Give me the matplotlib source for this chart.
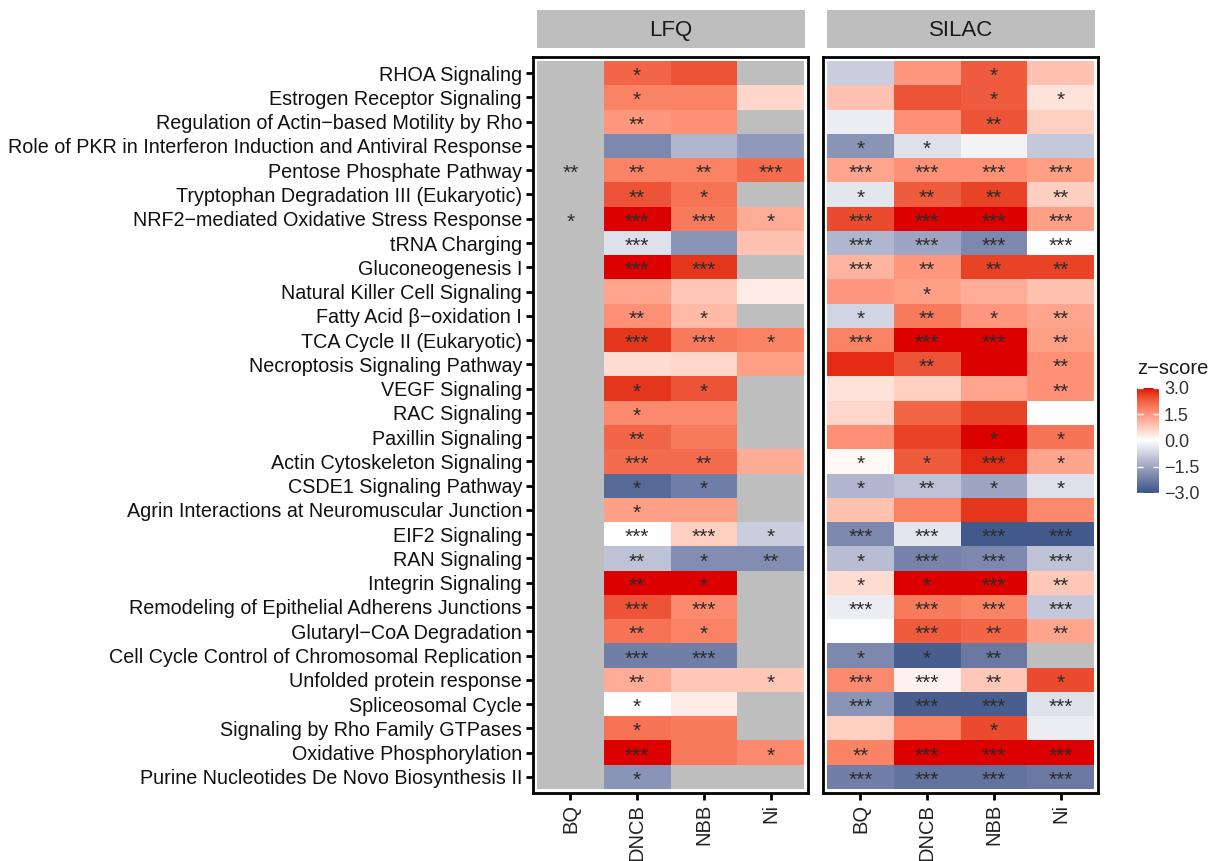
import numpy as np
import matplotlib
matplotlib.use("Agg")
import matplotlib.pyplot as plt
import matplotlib.colors as mcolors

plt.rcParams['font.family'] = ['Liberation Sans', 'DejaVu Sans']

nan = np.nan

pathways = [
    "RHOA Signaling",
    "Estrogen Receptor Signaling",
    "Regulation of Actin\u2212based Motility by Rho",
    "Role of PKR in Interferon Induction and Antiviral Response",
    "Pentose Phosphate Pathway",
    "Tryptophan Degradation III (Eukaryotic)",
    "NRF2\u2212mediated Oxidative Stress Response",
    "tRNA Charging",
    "Gluconeogenesis I",
    "Natural Killer Cell Signaling",
    "Fatty Acid \u03b2\u2212oxidation I",
    "TCA Cycle II (Eukaryotic)",
    "Necroptosis Signaling Pathway",
    "VEGF Signaling",
    "RAC Signaling",
    "Paxillin Signaling",
    "Actin Cytoskeleton Signaling",
    "CSDE1 Signaling Pathway",
    "Agrin Interactions at Neuromuscular Junction",
    "EIF2 Signaling",
    "RAN Signaling",
    "Integrin Signaling",
    "Remodeling of Epithelial Adherens Junctions",
    "Glutaryl\u2212CoA Degradation",
    "Cell Cycle Control of Chromosomal Replication",
    "Unfolded protein response",
    "Spliceosomal Cycle",
    "Signaling by Rho Family GTPases",
    "Oxidative Phosphorylation",
    "Purine Nucleotides De Novo Biosynthesis II",
]

treatments = ["BQ", "DNCB", "NBB", "Ni"]
methods = ["LFQ", "SILAC"]

# z-scores, one row per pathway, columns BQ / DNCB / NBB / Ni
lfq_z = [
    [nan, 2.2, 2.4, nan],
    [nan, 1.8, 1.8, 0.6],
    [nan, 1.5, 1.6, nan],
    [nan, -2.0, -1.2, -1.7],
    [nan, 1.8, 1.8, 2.1],
    [nan, 2.4, 2.0, nan],
    [nan, 3.0, 1.9, 1.2],
    [nan, -0.5, -1.8, 0.9],
    [nan, 3.0, 2.7, nan],
    [nan, 1.3, 0.8, 0.3],
    [nan, 1.6, 1.0, nan],
    [nan, 2.7, 1.9, 1.8],
    [nan, 0.5, 0.6, 1.4],
    [nan, 2.7, 2.4, nan],
    [nan, 1.7, 1.7, nan],
    [nan, 2.2, 1.9, nan],
    [nan, 2.1, 2.1, 1.2],
    [nan, -2.6, -2.2, nan],
    [nan, 1.4, 1.4, nan],
    [nan, 0.0, 0.7, -0.8],
    [nan, -1.0, -1.9, -1.9],
    [nan, 3.0, 3.0, nan],
    [nan, 2.4, 1.7, nan],
    [nan, 2.0, 1.8, nan],
    [nan, -2.2, -2.2, nan],
    [nan, 1.2, 0.8, 0.8],
    [nan, 0.0, 0.3, nan],
    [nan, 2.0, 1.9, nan],
    [nan, 3.0, 1.9, 1.7],
    [nan, -1.8, nan, nan],
]

silac_z = [
    [-0.8, 1.5, 2.3, 0.9],
    [0.9, 2.4, 2.3, 0.4],
    [-0.3, 1.6, 2.4, 0.7],
    [-1.8, -0.5, -0.2, -0.9],
    [1.3, 1.6, 1.6, 1.4],
    [-0.4, 2.3, 2.6, 0.7],
    [2.5, 3.0, 3.0, 1.4],
    [-1.2, -1.5, -2.0, 0.0],
    [1.1, 1.5, 2.6, 2.6],
    [1.5, 1.4, 1.2, 0.9],
    [-0.7, 1.9, 1.5, 1.3],
    [1.8, 3.0, 3.0, 1.4],
    [2.8, 2.4, 3.0, 1.6],
    [0.4, 0.7, 1.3, 1.6],
    [0.6, 2.2, 2.6, 0.0],
    [1.6, 2.6, 3.0, 2.0],
    [0.1, 2.3, 2.8, 1.3],
    [-1.2, -1.0, -1.5, -0.5],
    [0.9, 1.8, 2.7, 1.7],
    [-2.0, -0.4, -2.9, -2.9],
    [-1.1, -2.1, -2.0, -1.0],
    [0.5, 3.0, 3.0, 0.8],
    [-0.3, 1.9, 1.8, -0.9],
    [0.0, 2.3, 2.2, 1.3],
    [-2.0, -2.8, -2.3, nan],
    [1.7, 0.2, 0.8, 2.5],
    [-1.8, -2.8, -2.8, -0.5],
    [0.7, 1.8, 2.5, -0.3],
    [1.8, 3.0, 3.0, 3.0],
    [-2.2, -2.4, -2.4, -2.3],
]

# significance stars
lfq_sig = [
    ["", "*", "", ""],
    ["", "*", "", ""],
    ["", "**", "", ""],
    ["", "", "", ""],
    ["**", "**", "**", "***"],
    ["", "**", "*", ""],
    ["*", "***", "***", "*"],
    ["", "***", "", ""],
    ["", "***", "***", ""],
    ["", "", "", ""],
    ["", "**", "*", ""],
    ["", "***", "***", "*"],
    ["", "", "", ""],
    ["", "*", "*", ""],
    ["", "*", "", ""],
    ["", "**", "", ""],
    ["", "***", "**", ""],
    ["", "*", "*", ""],
    ["", "*", "", ""],
    ["", "***", "***", "*"],
    ["", "**", "*", "**"],
    ["", "**", "*", ""],
    ["", "***", "***", ""],
    ["", "**", "*", ""],
    ["", "***", "***", ""],
    ["", "**", "", "*"],
    ["", "*", "", ""],
    ["", "*", "", ""],
    ["", "***", "", "*"],
    ["", "*", "", ""],
]

silac_sig = [
    ["", "", "*", ""],
    ["", "", "*", "*"],
    ["", "", "**", ""],
    ["*", "*", "", ""],
    ["***", "***", "***", "***"],
    ["*", "**", "**", "**"],
    ["***", "***", "***", "***"],
    ["***", "***", "***", "***"],
    ["***", "**", "**", "**"],
    ["", "*", "", ""],
    ["*", "**", "*", "**"],
    ["***", "***", "***", "**"],
    ["", "**", "", "**"],
    ["", "", "", "**"],
    ["", "", "", ""],
    ["", "", "*", "*"],
    ["*", "*", "***", "*"],
    ["*", "**", "*", "*"],
    ["", "", "", ""],
    ["***", "***", "***", "***"],
    ["*", "***", "***", "***"],
    ["*", "*", "***", "**"],
    ["***", "***", "***", "***"],
    ["", "***", "**", "**"],
    ["*", "*", "**", ""],
    ["***", "***", "**", "*"],
    ["***", "***", "***", "***"],
    ["", "", "*", ""],
    ["**", "***", "***", "***"],
    ["***", "***", "***", "***"],
]


# diverging low/white/high palette, interpolated in CIE Lab
M = np.array([[0.4124, 0.3576, 0.1805],
              [0.2126, 0.7152, 0.0722],
              [0.0193, 0.1192, 0.9505]])
WHITE = np.array([0.95047, 1.0, 1.08883])


def to_lab(c):
    rgb = np.array(mcolors.to_rgb(c))
    lin = np.where(rgb <= 0.04045, rgb / 12.92, ((rgb + 0.055) / 1.055) ** 2.4)
    xyz = M @ lin / WHITE
    f = np.where(xyz > 0.008856, np.cbrt(xyz), 7.787 * xyz + 16 / 116)
    return np.array([116 * f[1] - 16, 500 * (f[0] - f[1]), 200 * (f[1] - f[2])])


def from_lab(lab):
    fy = (lab[:, 0] + 16) / 116
    f = np.stack([fy + lab[:, 1] / 500, fy, fy - lab[:, 2] / 200], -1)
    xyz = np.where(f ** 3 > 0.008856, f ** 3, (f - 16 / 116) / 7.787) * WHITE
    lin = np.clip(xyz @ np.linalg.inv(M).T, 0, None)
    rgb = np.where(lin <= 0.0031308, 12.92 * lin, 1.055 * lin ** (1 / 2.4) - 0.055)
    return np.clip(rgb, 0, 1)


low, mid, high = to_lab("#3C5488"), to_lab("white"), to_lab("#DC0000")
t = np.linspace(-1, 1, 256)[:, None]
labs = np.where(t < 0, mid + (low - mid) * (-t), mid + (high - mid) * t)
cmap = mcolors.ListedColormap(from_lab(labs))
cmap.set_bad("#BEBEBE")
norm = mcolors.Normalize(-3, 3)

fig = plt.figure(figsize=(12.15, 8.61), dpi=100)
W, H = 1215, 861

panels = [(533, lfq_z, lfq_sig), (823, silac_z, silac_sig)]
pw, top, bot = 275, 57, 793
nrow, ncol = len(pathways), len(treatments)

for k, (x0, zvals, sig) in enumerate(panels):
    ax = fig.add_axes([x0 / W, 1 - bot / H, pw / W, (bot - top) / H])
    z = np.ma.masked_invalid(np.array(zvals, dtype=float))
    mesh = ax.pcolormesh(np.arange(ncol + 1), np.arange(nrow + 1), z,
                         cmap=cmap, norm=norm)
    for i in range(nrow):
        for j in range(ncol):
            if sig[i][j]:
                ax.text(j + 0.5, i + 0.64, sig[i][j], ha="center", va="center",
                        fontsize=15, color="#2B2B2B")
    ax.set_xlim(-0.06, ncol + 0.06)
    ax.set_ylim(nrow + 0.165, -0.165)
    ax.set_xticks(np.arange(ncol) + 0.5)
    ax.set_xticklabels(treatments, rotation=90, fontsize=14.5, color="#222222")
    ax.set_yticks(np.arange(nrow) + 0.5)
    ax.tick_params(width=2, length=5, color="black", pad=3)
    if k == 0:
        ax.set_yticklabels(pathways, fontsize=14.2, color="#111111")
    else:
        ax.set_yticklabels([])
        ax.tick_params(axis="y", length=0)
    for s in ax.spines.values():
        s.set_linewidth(2)
        s.set_color("black")

    # facet strip
    sx = fig.add_axes([(x0 + 4) / W, 1 - 48 / H, (pw - 7) / W, 38 / H])
    sx.set_facecolor("#BEBEBE")
    sx.set_xticks([])
    sx.set_yticks([])
    for s in sx.spines.values():
        s.set_visible(False)
    sx.text(0.5, 0.47, methods[k], ha="center", va="center", fontsize=16,
            color="#1A1A1A", transform=sx.transAxes)

cax = fig.add_axes([1137 / W, 1 - 493 / H, 22 / W, 105 / H])
cb = fig.colorbar(mesh, cax=cax, ticks=[-3, -1.5, 0, 1.5, 3],
                  format=lambda v, _: f"{v:.1f}".replace("-", "\u2212"))
cb.outline.set_visible(False)
cax.tick_params(direction="in", color="white", length=4, width=1,
                left=True, right=True, labelsize=13, labelcolor="#333333")
fig.text(1137 / W, 1 - 369 / H, "z\u2212score", fontsize=14.5, va="center",
         ha="left", color="#1A1A1A")

fig.savefig("out.png", dpi=100)
